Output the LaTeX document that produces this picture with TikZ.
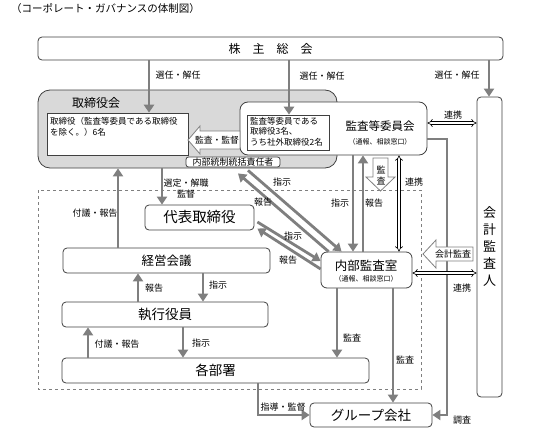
\documentclass[tikz,border=0pt]{standalone}
\usepackage{fontspec}
\setmainfont{Noto Sans CJK JP}
\usetikzlibrary{arrows.meta,calc}
\definecolor{arrc}{HTML}{7F7F7F}
\definecolor{boxc}{HTML}{404040}
\definecolor{grayf}{HTML}{D9D9D9}
\newcommand{\jfs}[1]{\fontsize{#1}{#1}\selectfont}
\begin{document}
\begin{tikzpicture}[x=1pt,y=-1pt,
 box/.style={draw=boxc, line width=0.8pt, rounded corners=4pt, fill=white, inner sep=0pt},
 sq/.style={draw=boxc, line width=0.6pt, fill=white, inner sep=0pt},
 arr/.style={draw=arrc, line width=2.8pt, -{Triangle[length=8pt,width=10pt]}},
 lbl/.style={inner sep=0pt, font=\jfs{9}},
 dbl/.style={draw=black, line width=0.6pt, double=white, double distance=2.2pt, {Implies}-{Implies}},
 hol/.style={draw=arrc, fill=white, line width=0.8pt, line join=miter},
 txt/.style={inner sep=0pt}
]
\useasboundingbox (0,0) rectangle (542,434);

% dashed frame
\draw[arrc, dashed, line width=0.8pt] (38,190) rectangle (421,389);

% nodes
\node[txt, anchor=west, font=\jfs{10.5}] (title) at (11,9) {（コーポレート・ガバナンスの体制図）};
\node[box, minimum width=465pt, minimum height=23pt, font=\jfs{12}] (kabu) at (270.5,48.5) {株\hspace{12pt}主\hspace{12pt}総\hspace{12pt}会};
\node[box, fill=grayf, rounded corners=12pt, minimum width=299pt, minimum height=78pt] (tori) at (187.5,129) {};
\node[txt, font=\jfs{12}] (torilbl) at (96,103) {取締役会};
\node[sq, minimum width=141pt, minimum height=42pt] (toriin) at (117.5,134) {};
\node[txt, anchor=north west, align=left, font=\fontsize{8.5}{11}\selectfont] (toritxt) at (50,117) {取締役（監査等委員である取締役\\を除く。）6名};
\node[box, rounded corners=8pt, minimum width=187pt, minimum height=53pt] (kansa) at (333.5,128.5) {};
\node[sq, minimum width=82pt, minimum height=35pt] (kansain) at (288,132.5) {};
\node[txt, anchor=north west, align=left, font=\fontsize{8.5}{10.5}\selectfont] (kansatxt) at (250,117) {監査等委員である\\取締役3名、\\うち社外取締役2名};
\node[txt, font=\jfs{11.5}] (kansalbl) at (380,126) {監査等委員会};
\node[txt, font=\jfs{7}] (kansasub) at (380,142) {（通報、相談窓口）};
\node[box, rounded corners=2.5pt, minimum width=94pt, minimum height=10pt, font=\jfs{9}] (naibu) at (233,162) {内部統制統括責任者};
\node[box, minimum width=25pt, minimum height=300pt, align=center, font=\fontsize{13}{17}\selectfont] (kaikei) at (489.5,247) {会\\計\\監\\査\\人};
\node[box, minimum width=109pt, minimum height=25pt, font=\jfs{14.5}] (daihyo) at (199.5,217.5) {代表取締役};
\node[box, minimum width=207pt, minimum height=25pt, font=\jfs{12.5}] (keiei) at (166.5,260.5) {経営会議};
\node[box, minimum width=206pt, minimum height=25pt, font=\jfs{13.5}] (shikko) at (165,314.5) {執行役員};
\node[box, minimum width=307pt, minimum height=25pt, font=\jfs{13.5}] (kakubu) at (215.5,370.5) {各部署};
\node[box, rounded corners=6pt, minimum width=91pt, minimum height=36pt] (naikan) at (366.5,270) {};
\node[txt, font=\jfs{12.5}] (naikanlbl) at (366,266) {内部監査室};
\node[txt, font=\jfs{7}] (naikansub) at (366,279) {（通報、相談窓口）};
\node[box, minimum width=122pt, minimum height=24pt, font=\jfs{13.5}] (group) at (371,415) {グループ会社};

% arrows from shareholders
\draw[arr] (149,0 |- kabu.south) -- (149,0 |- toriin.north);
\node[lbl] (l1) at (178,75) {選任・解任};
\draw[arr] (289,0 |- kabu.south) -- (289,0 |- kansain.north);
\node[lbl] (l2) at (322,76) {選任・解任};
\draw[arr] (489,0 |- kabu.south) -- (489,0 |- kaikei.north);
\node[lbl] (l3) at (457,75) {選任・解任};

% board -> representative director
\draw[arr] (162,0 |- tori.south) -- (162,0 |- daihyo.north);
\node[lbl, align=center, font=\fontsize{9}{11}\selectfont] (l4) at (186,189) {選定・解職\\監督};
\draw[arr] (118,0 |- keiei.north) -- (118,0 |- tori.south);
\node[lbl] (l5) at (95,213) {付議・報告};
\draw[arr] (138,0 |- shikko.north) -- (138,0 |- keiei.south);
\node[lbl] (l6) at (154,288) {報告};
\draw[arr] (203,0 |- keiei.south) -- (203,0 |- shikko.north);
\node[lbl] (l7) at (218,285) {指示};
\draw[arr] (88,0 |- kakubu.north) -- (88,0 |- shikko.south);
\node[lbl] (l8) at (117,344) {付議・報告};
\draw[arr] (183,0 |- shikko.south) -- (183,0 |- kakubu.north);
\node[lbl] (l9) at (201,343) {指示};

% internal audit
\draw[arr] (337,0 |- naikan.south) -- (337,0 |- kakubu.north);
\node[lbl] (l10) at (352,338) {監査};
\draw[arr] (393,0 |- naikan.south) -- (393,0 |- group.north);
\node[lbl] (l11) at (405,360) {監査};
\draw[arr] (258,0 |- kakubu.south) |- (group.west);
\node[lbl] (l12) at (283,407) {指導・監督};
\draw[arr] (kansa.east |- 0,139) -- (447,139) |- (group.east);
\node[lbl] (l13) at (462,420) {調査};

\draw[arr] (353,0 |- kansa.south) -- (353,0 |- naikan.north);
\node[lbl] (l14) at (340,203) {指示};
\draw[arr] (363,0 |- naikan.north) -- (363,0 |- kansa.south);
\node[lbl] (l15) at (374,203) {報告};

% diagonals
\draw[arr] ($(naibu.south)+(15,3)$) -- ($(naikan.north west)+(21,0)$);
\node[lbl] (l16) at (282,182) {指示};
\draw[arr] ($(naikan.north west)+(8,0)$) -- ($(naibu.south)+(5,6)$);
\node[lbl] (l17) at (263,202) {報告};
\draw[arr] ($(daihyo.east)+(3,4.5)$) -- ($(naikan.west)+(0,-9)$);
\node[lbl] (l18) at (293,236) {指示};
\draw[arr] ($(naikan.west)+(0,-1)$) -- ($(daihyo.east)+(3,11)$);
\node[lbl] (l19) at (288,260) {報告};

% cooperation double arrows
\draw[dbl] (kansa.east |- 0,123) -- (kaikei.west |- 0,123);
\node[lbl] (l20) at (453,115) {連携};
\draw[dbl] (399,0 |- kansa.south) -- (399,0 |- naikan.north);
\node[lbl] (l21) at (414,182) {連携};
\draw[dbl] (naikan.east |- 0,273) -- (kaikei.west |- 0,273);
\node[lbl] (l22) at (462,288) {連携};

% hollow arrows
\draw[hol] (188,140) -- (200,126) -- (200,131) -- (240,131) -- (240,149) -- (200,149) -- (200,154) -- cycle;
\node[lbl, font=\jfs{8.8}] (h1) at (217,140) {監査・監督};
\draw[hol] (373,158) -- (388,158) -- (388,177) -- (395,177) -- (380.5,191) -- (366,177) -- (373,177) -- cycle;
\node[lbl, align=center, font=\fontsize{9}{11}\selectfont] (h2) at (381,176) {監\\査};
\draw[hol] (423,254) -- (436,240) -- (436,247) -- (473,247) -- (473,261) -- (436,261) -- (436,268) -- cycle;
\node[lbl, font=\jfs{9}] (h3) at (453,254) {会計監査};
\end{tikzpicture}
\end{document}
